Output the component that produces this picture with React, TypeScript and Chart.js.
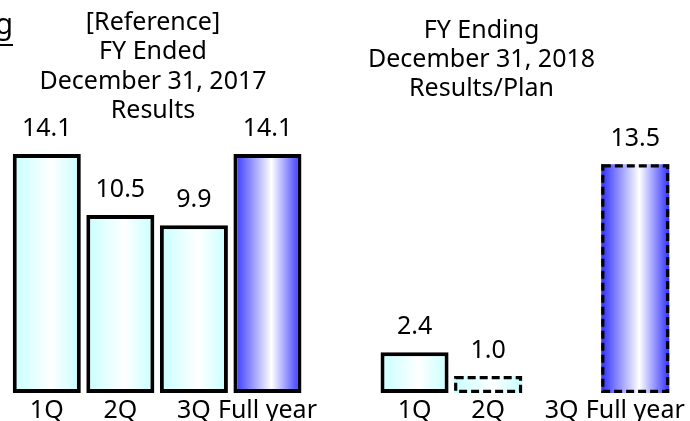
import React, { useEffect, useRef } from "react";
import { Chart, registerables } from "chart.js";

Chart.register(...registerables);

// ---- data ----
const quarterLabels = ["1Q", "2Q", "3Q", "Full year"];
const fy2017Values: (number | null)[] = [14.1, 10.5, 9.9, 14.1];
const fy2018Values: (number | null)[] = [2.4, 1.0, null, 13.5];
const fy2017Planned = [false, false, false, false];
const fy2018Planned = [false, true, true, true];
const fy2017Title = ["[Reference]", "FY Ended", "December 31, 2017", "Results"];
const fy2018Title = ["FY Ending", "December 31, 2018", "Results/Plan"];

const labels = [...quarterLabels, "", ...quarterLabels];
const values = [...fy2017Values, null, ...fy2018Values];
const planned = [...fy2017Planned, false, ...fy2018Planned];
const isFullYear = labels.map((l) => l === "Full year");

const FONT = "'Noto Sans', sans-serif";
const CYAN = "#c6ffff";
const BLUE = "#3030ff";

const overlayPlugin = {
  id: "overlay",
  beforeDatasetsDraw(chart: any) {
    const meta = chart.getDatasetMeta(0);
    const ctx = chart.ctx;
    meta.data.forEach((el: any, i: number) => {
      if (values[i] == null) return;
      const { x, width } = el.getProps(["x", "width"], true);
      const g = ctx.createLinearGradient(x - width / 2, 0, x + width / 2, 0);
      const edge = isFullYear[i] ? BLUE : CYAN;
      g.addColorStop(0, edge);
      g.addColorStop(0.56, "#ffffff");
      g.addColorStop(1, edge);
      el.options = { ...el.options, backgroundColor: g };
    });
  },
  afterDatasetsDraw(chart: any) {
    const meta = chart.getDatasetMeta(0);
    const ctx = chart.ctx;
    ctx.save();
    meta.data.forEach((el: any, i: number) => {
      const v = values[i];
      if (v == null) return;
      const { x, y, base, width } = el.getProps(["x", "y", "base", "width"], true);
      const left = x - width / 2;
      if (planned[i]) {
        ctx.strokeStyle = "#000";
        ctx.lineWidth = 3.2;
        ctx.setLineDash([8, 4]);
        ctx.strokeRect(left + 1.6, y + 1.6, width - 3.2, base - y - 3.2);
        ctx.setLineDash([]);
      }
      ctx.fillStyle = "#000";
      ctx.font = `25px ${FONT}`;
      ctx.textAlign = "center";
      ctx.textBaseline = "alphabetic";
      ctx.fillText(v.toFixed(1), x, y - 18);
    });
    // titles
    ctx.font = `25px ${FONT}`;
    ctx.textAlign = "center";
    ctx.textBaseline = "alphabetic";
    fy2017Title.forEach((t, k) => ctx.fillText(t, 153, 30 + k * 29.3));
    fy2018Title.forEach((t, k) => ctx.fillText(t, 481.5, 37.5 + k * 29.3));
    // cropped heading fragment
    ctx.font = `29px ${FONT}`;
    ctx.textAlign = "right";
    ctx.fillText("g", 13, 34);
    ctx.fillRect(0, 44, 13, 2);
    ctx.restore();
  },
};

export default function App() {
  const ref = useRef<HTMLCanvasElement>(null);
  useEffect(() => {
    const chart = new Chart(ref.current!, {
      type: "bar",
      data: {
        labels,
        datasets: [
          {
            data: values,
            backgroundColor: CYAN,
            borderColor: "#000",
            borderWidth: (c: any) => (planned[c.dataIndex] ? 0 : 4),
            borderSkipped: false,
            barPercentage: 0.925,
            categoryPercentage: 1,
          },
        ],
      },
      options: {
        responsive: false,
        animation: false,
        layout: { padding: { top: 54, left: 10, right: 18, bottom: 0 } },
        plugins: { legend: { display: false }, tooltip: { enabled: false } },
        scales: {
          x: {
            grid: { display: false },
            border: { display: false },
            ticks: {
              autoSkip: false,
              maxRotation: 0,
              padding: -5,
              color: "#000",
              font: { family: FONT, size: 25 },
            },
            afterFit: (s: any) => {
              s.height = 28;
            },
          },
          y: {
            display: false,
            min: 0,
            max: 20,
          },
        },
      },
      plugins: [overlayPlugin],
    });
    return () => chart.destroy();
  }, []);
  return (
    <div style={{ position: "absolute", left: 0, top: 0, width: 690, height: 421, background: "#fff" }}>
      <canvas ref={ref} width={690} height={421} />
    </div>
  );
}
